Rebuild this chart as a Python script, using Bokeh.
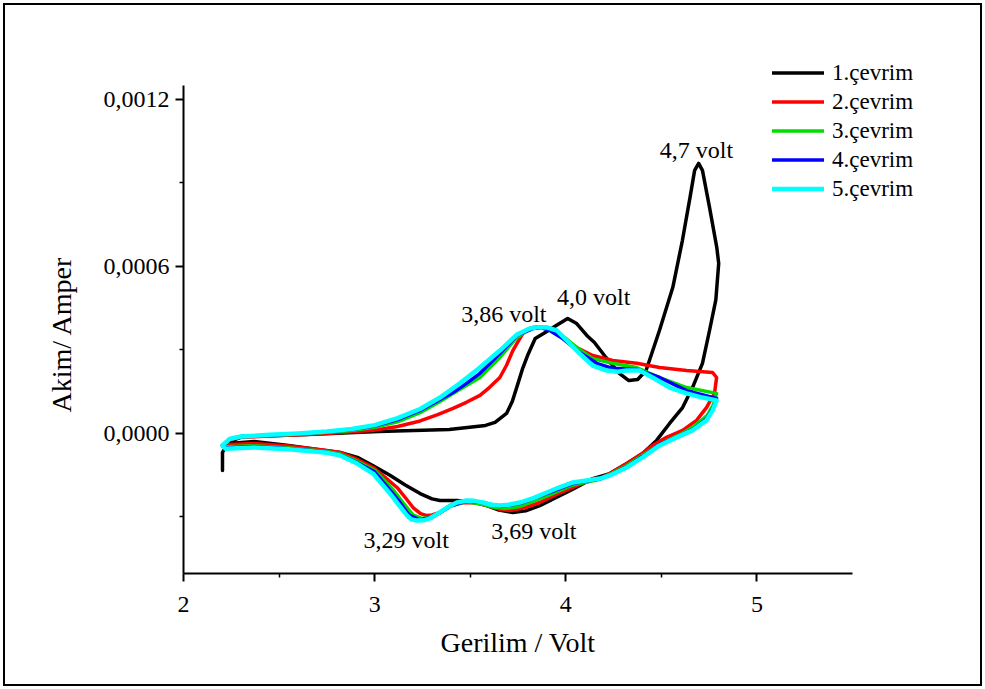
from bokeh.plotting import figure
from bokeh.models import (ColumnDataSource, FixedTicker, CustomJSTickFormatter,
                          Legend, LegendItem, Title)
from bokeh.core.properties import value
from bokeh.embed import file_html
from bokeh.resources import INLINE

# Cyclic voltammetry, five cycles. Potential in volt, current in units of 1e-4 A.
CURRENT_UNIT = 1e-4

CYCLE_LABELS = ["1.çevrim", "2.çevrim", "3.çevrim", "4.çevrim", "5.çevrim"]

# cycle 1 (anodic sweep followed by cathodic sweep)
V1 = [2.204, 2.204, 2.24, 2.31, 2.65, 3.02, 3.39, 3.58, 3.63, 3.69,
      3.72, 3.75, 3.775, 3.80, 3.84, 3.89, 3.95, 4.01, 4.057, 4.11,
      4.15, 4.21, 4.28, 4.33, 4.376, 4.42, 4.49, 4.56, 4.61, 4.65,
      4.674, 4.695, 4.715, 4.752, 4.79, 4.80,
      4.785, 4.752, 4.715, 4.663, 4.611, 4.543, 4.475, 4.402, 4.319, 4.23,
      4.141, 4.037, 3.95, 3.864, 3.79, 3.723, 3.65, 3.59, 3.551, 3.49,
      3.431, 3.342, 3.30, 3.238, 3.16, 3.08, 2.99, 2.91, 2.82, 2.74,
      2.55, 2.37, 2.24, 2.204]
I1 = [-1.33, -0.68, -0.29, -0.11, -0.04, 0.07, 0.14, 0.29, 0.40, 0.72,
      1.15, 1.80, 2.35, 2.80, 3.41, 3.62, 3.88, 4.13, 3.95, 3.52,
      3.27, 2.73, 2.16, 1.90, 1.94, 2.26, 3.70, 5.25, 6.93, 8.48,
      9.45, 9.70, 9.45, 8.12, 6.68, 6.11,
      4.80, 3.70, 2.52, 1.65, 0.93, 0.36, -0.25, -0.72, -1.08, -1.44,
      -1.62, -2.00, -2.30, -2.59, -2.78, -2.84, -2.75, -2.60, -2.52, -2.44,
      -2.41, -2.41, -2.35, -2.16, -1.85, -1.50, -1.15, -0.86, -0.68, -0.61,
      -0.43, -0.29, -0.36, -0.43]

# cycle 2
V2 = [2.204, 2.24, 2.30, 2.45, 2.60, 2.75, 2.90, 3.00, 3.12, 3.238,
      3.33, 3.41, 3.48, 3.551, 3.60, 3.655, 3.69, 3.723, 3.75, 3.775,
      3.80, 3.828, 3.86, 3.901, 3.935, 3.969, 4.01, 4.057, 4.141, 4.245,
      4.371, 4.491, 4.632, 4.768, 4.789,
      4.778, 4.736, 4.684, 4.611, 4.527, 4.454, 4.40, 4.32, 4.23, 4.178,
      4.10, 4.037, 3.95, 3.864, 3.78, 3.708, 3.65, 3.587, 3.53, 3.483,
      3.44, 3.41, 3.37, 3.342, 3.30, 3.274, 3.24, 3.201, 3.16, 3.117,
      3.05, 2.992, 2.90, 2.82, 2.74, 2.55, 2.37, 2.24, 2.204]
I2 = [-0.45, -0.22, -0.14, -0.09, -0.05, 0.0, 0.07, 0.12, 0.25, 0.45,
      0.68, 0.90, 1.12, 1.37, 1.65, 2.01, 2.45, 2.98, 3.30, 3.59,
      3.74, 3.81, 3.83, 3.81, 3.70, 3.52, 3.30, 3.09, 2.80, 2.62,
      2.52, 2.37, 2.26, 2.19, 2.01,
      1.44, 0.93, 0.47, 0.11, -0.14, -0.43, -0.72, -1.08, -1.44, -1.62,
      -1.75, -1.94, -2.20, -2.48, -2.68, -2.77, -2.72, -2.59, -2.50, -2.48,
      -2.49, -2.52, -2.70, -2.84, -2.93, -2.95, -2.88, -2.66, -2.30, -1.94,
      -1.55, -1.22, -0.90, -0.68, -0.60, -0.45, -0.36, -0.40, -0.45]

# cycle 3
V3 = [2.204, 2.24, 2.30, 2.45, 2.60, 2.75, 2.88, 3.00, 3.12, 3.238,
      3.342, 3.41, 3.48, 3.551, 3.655, 3.744, 3.812, 3.86, 3.901, 3.969,
      4.057, 4.141, 4.245, 4.371, 4.491, 4.632, 4.789,
      4.773, 4.74, 4.67, 4.59, 4.50, 4.40, 4.32, 4.23, 4.178, 4.037,
      3.90, 3.76, 3.68, 3.62, 3.57, 3.483, 3.40, 3.33, 3.28, 3.245,
      3.20, 3.15, 3.10, 3.00, 2.90, 2.82, 2.74, 2.55, 2.37, 2.22,
      2.204]
I3 = [-0.44, -0.21, -0.12, -0.07, -0.02, 0.04, 0.11, 0.22, 0.42, 0.75,
      1.15, 1.44, 1.72, 2.01, 2.73, 3.45, 3.77, 3.82, 3.81, 3.59,
      3.09, 2.69, 2.52, 2.37, 2.01, 1.65, 1.44,
      1.05, 0.65, 0.25, -0.07, -0.36, -0.79, -1.15, -1.47, -1.65, -1.85,
      -2.25, -2.62, -2.70, -2.64, -2.55, -2.45, -2.60, -2.90, -3.03, -3.05,
      -2.92, -2.50, -2.05, -1.32, -0.97, -0.74, -0.64, -0.52, -0.44, -0.48,
      -0.44]

# cycle 4
V4 = [2.204, 2.24, 2.30, 2.45, 2.60, 2.75, 2.88, 3.00, 3.12, 3.238,
      3.342, 3.41, 3.48, 3.551, 3.655, 3.744, 3.828, 3.87, 3.916, 3.984,
      4.073, 4.162, 4.245, 4.371, 4.491, 4.632, 4.789,
      4.77, 4.737, 4.665, 4.58, 4.49, 4.40, 4.32, 4.23, 4.178, 4.037,
      3.90, 3.76, 3.66, 3.567, 3.483, 3.39, 3.30, 3.235, 3.18, 3.13,
      3.09, 3.00, 2.90, 2.82, 2.74, 2.55, 2.37, 2.22, 2.204]
I4 = [-0.43, -0.20, -0.11, -0.06, -0.01, 0.06, 0.14, 0.27, 0.50, 0.83,
      1.22, 1.47, 1.80, 2.16, 2.87, 3.52, 3.77, 3.80, 3.70, 3.41,
      2.91, 2.52, 2.34, 2.30, 2.01, 1.54, 1.26,
      0.90, 0.52, 0.15, -0.12, -0.40, -0.83, -1.19, -1.49, -1.63, -1.80,
      -2.16, -2.52, -2.62, -2.49, -2.42, -2.63, -3.02, -3.10, -2.93, -2.45,
      -2.12, -1.38, -1.02, -0.77, -0.66, -0.55, -0.47, -0.52, -0.43]

# cycle 5
V5 = [2.204, 2.24, 2.30, 2.45, 2.60, 2.75, 2.88, 3.00, 3.12, 3.238,
      3.342, 3.446, 3.551, 3.655, 3.744, 3.812, 3.86, 3.901, 3.953, 4.005,
      4.073, 4.141, 4.214, 4.27, 4.319, 4.386, 4.454, 4.543, 4.632, 4.715,
      4.789,
      4.768, 4.736, 4.663, 4.58, 4.491, 4.402, 4.319, 4.23, 4.178, 4.10,
      4.037, 3.96, 3.901, 3.83, 3.76, 3.70, 3.655, 3.61, 3.567, 3.52,
      3.483, 3.43, 3.379, 3.33, 3.29, 3.255, 3.222, 3.19, 3.17, 3.13,
      3.081, 3.03, 2.992, 2.90, 2.82, 2.74, 2.55, 2.37, 2.22, 2.204]
I5 = [-0.43, -0.20, -0.11, -0.05, 0.0, 0.07, 0.16, 0.30, 0.55, 0.88,
      1.29, 1.80, 2.37, 2.98, 3.55, 3.77, 3.82, 3.81, 3.70, 3.34,
      2.87, 2.44, 2.26, 2.22, 2.26, 2.26, 2.01, 1.65, 1.44, 1.29,
      1.19,
      0.83, 0.47, 0.11, -0.14, -0.43, -0.86, -1.22, -1.51, -1.62, -1.70,
      -1.76, -1.95, -2.12, -2.32, -2.48, -2.56, -2.59, -2.56, -2.48, -2.42,
      -2.41, -2.48, -2.66, -2.88, -3.05, -3.12, -3.13, -3.08, -2.95, -2.60,
      -2.16, -1.75, -1.44, -1.05, -0.79, -0.68, -0.57, -0.50, -0.55, -0.43]

X_TICKS = [2, 3, 4, 5]
X_MINOR = [2.5, 3.5, 4.5]
Y_TICKS = [0.0, 0.0006, 0.0012]
Y_MINOR = [-0.0003, 0.0003, 0.0009]

# peak annotations
PEAK_TEXT = ["4,7 volt", "4,0 volt", "3,86 volt", "3,29 volt", "3,69 volt"]

SERIF = "Liberation Serif"
COLORS = ["#000000", "#ff0000", "#00dd00", "#0000ff", "#00ffff"]
WIDTHS = [3.5, 3.5, 3.5, 3.5, 4.5]

# axis extents; the plotting frame is larger so the legend has room inside it
X_AXIS_SPAN = (2.0, 5.5)
Y_AXIS_SPAN = (-0.000503, 0.00125)

p = figure(width=975, height=679, x_range=(2.0, 6.065), y_range=(-0.000503, 0.0014117),
           output_backend="svg", toolbar_location=None,
           min_border_left=178, min_border_right=20,
           min_border_top=35, min_border_bottom=111)
p.styles = {"margin": "5px", "outline": "2px solid black"}
p.xgrid.visible = False
p.ygrid.visible = False
p.outline_line_color = None
p.background_fill_color = "white"
p.border_fill_color = "white"

renderers = []
for v, cur, color, w in zip([V1, V2, V3, V4, V5], [I1, I2, I3, I4, I5], COLORS, WIDTHS):
    src = ColumnDataSource(data=dict(v=v, i=[c * CURRENT_UNIT for c in cur]))
    r = p.line("v", "i", source=src, line_color=color, line_width=w,
               line_join="round", line_cap="round")
    renderers.append(r)

# axes
p.xaxis.bounds = X_AXIS_SPAN
p.yaxis.bounds = Y_AXIS_SPAN
p.xaxis.ticker = FixedTicker(ticks=X_TICKS, minor_ticks=X_MINOR)
p.yaxis.ticker = FixedTicker(ticks=Y_TICKS, minor_ticks=Y_MINOR)
p.yaxis.formatter = CustomJSTickFormatter(code="return tick.toFixed(4).replace('.', ',');")
for ax in (p.xaxis[0], p.yaxis[0]):
    ax.axis_line_width = 2
    ax.axis_line_color = "black"
    ax.major_tick_line_width = 2
    ax.minor_tick_line_width = 1.5
    ax.major_tick_in = 0
    ax.major_tick_out = 8
    ax.minor_tick_in = 0
    ax.minor_tick_out = 4
    ax.major_label_text_font = SERIF
    ax.major_label_text_font_size = "24px"
    ax.major_label_text_color = "black"
p.xaxis.major_label_standoff = 15
p.yaxis.major_label_standoff = 6

# axis titles, centred on the drawn axis lines rather than on the whole frame
x_title = Title(text="Gerilim / Volt", align="left", offset=257, standoff=20,
                text_font=SERIF, text_font_size="28px", text_font_style="normal",
                text_color="black")
p.add_layout(x_title, "below")
y_title = Title(text="Akim/ Amper", align="left", offset=161, standoff=47,
                text_font=SERIF, text_font_size="28px", text_font_style="normal",
                text_color="black")
p.add_layout(y_title, "left")

# peak labels
ann = ColumnDataSource(data=dict(
    x=[4.684, 4.146, 3.676, 3.165, 3.833],
    y=[0.001017, 0.000489, 0.000431, -0.000384, -0.000352],
    t=PEAK_TEXT))
p.text("x", "y", text="t", source=ann, text_align="center", text_baseline="middle",
       text_font=value(SERIF), text_font_size="24px", text_color="black")

legend = Legend(items=[LegendItem(label=lbl, renderers=[r])
                       for lbl, r in zip(CYCLE_LABELS, renderers)],
                location=(589, 370), glyph_width=52, glyph_height=29,
                label_height=29, label_standoff=8, spacing=0, padding=0, margin=0,
                border_line_color=None, background_fill_alpha=0,
                label_text_font=SERIF, label_text_font_size="23px",
                label_text_color="black")
p.add_layout(legend)

open("out.html", "w").write(file_html(p, INLINE))
